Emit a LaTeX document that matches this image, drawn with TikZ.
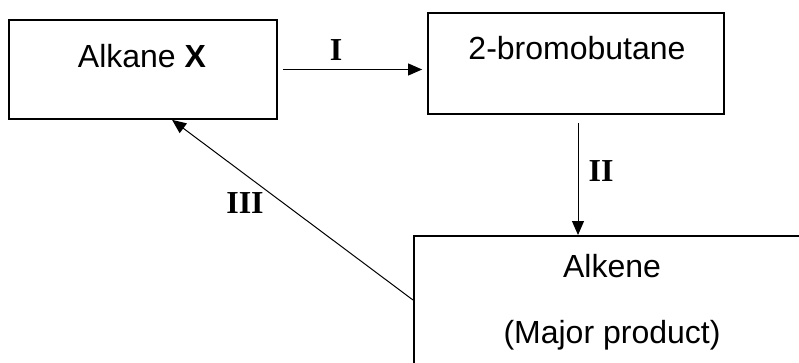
\documentclass[tikz,border=0pt]{standalone}
\usepackage{fontspec}
\setmainfont{Liberation Sans}
\newfontfamily\labfont{Liberation Serif}
\usetikzlibrary{arrows.meta}
\begin{document}
\begin{tikzpicture}[x=1pt,y=-1pt,
  boxstyle/.style={draw, line width=1.8pt, rectangle, inner sep=0pt},
  txt/.style={font=\fontsize{32}{38}\selectfont, anchor=base, inner sep=0pt},
  lab/.style={font=\labfont\bfseries\fontsize{32}{38}\selectfont, anchor=base, inner sep=0pt},
  arr/.style={line width=1pt, -{Triangle[length=14pt,width=12pt]}}]
\useasboundingbox[fill=white] (0,0) rectangle (799,363);
\node[boxstyle, minimum width=268pt, minimum height=99pt] (b1) at (143,69.5) {};
\node[boxstyle, minimum width=296pt, minimum height=101pt] (b2) at (576,63.5) {};
\begin{scope}
\clip (0,0) rectangle (799,363);
\node[boxstyle, minimum width=420pt, minimum height=160pt, anchor=north west] (b3) at (413,235) {};
\end{scope}
\node[txt] (t1) at (142,68) {Alkane \textbf{X}};
\node[txt] (t2) at (577,60) {2-bromobutane};
\node[txt] (t3) at (612,277) {Alkene};
\node[txt] (t4) at (612,343) {(Major product)};
\node[lab] (l1) at (336,61) {I};
\node[lab] (l2) at (601,182) {II};
\node[lab] (l3) at (245,213) {III};
\draw[arr] ([xshift=5pt]b1.east) -- ([xshift=-5pt]b1.east -| b2.west);
\draw[arr] ([xshift=2pt,yshift=-8pt]b2.south) -- ([xshift=2pt]b2.south |- b3.north);
\draw[arr] ([yshift=-65pt]b3.north west) -- ([xshift=164pt]b1.south west);
\end{tikzpicture}
\end{document}
